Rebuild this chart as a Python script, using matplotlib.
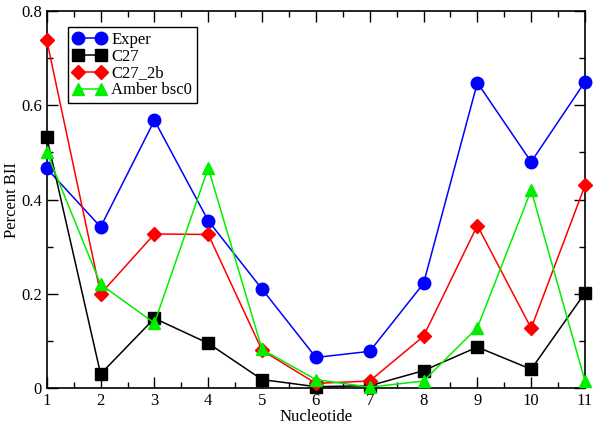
import matplotlib
matplotlib.use("Agg")
import matplotlib.pyplot as plt
from matplotlib.ticker import MultipleLocator

nucleotide = [1, 2, 3, 4, 5, 6, 7, 8, 9, 10, 11]
exper = [0.466, 0.342, 0.568, 0.355, 0.21, 0.065, 0.078, 0.222, 0.648, 0.48, 0.65]
c27 = [0.532, 0.03, 0.148, 0.095, 0.018, 0.003, 0.005, 0.037, 0.087, 0.04, 0.202]
c27_2b = [0.738, 0.2, 0.327, 0.326, 0.08, 0.01, 0.015, 0.11, 0.345, 0.127, 0.43]
amber = [0.5, 0.22, 0.138, 0.467, 0.082, 0.018, 0.002, 0.015, 0.128, 0.42, 0.015]

plt.rcParams['font.family'] = ['Liberation Serif', 'DejaVu Serif']

fig = plt.figure(figsize=(6, 4.26), dpi=100)
ax = fig.add_axes([0.078, 0.089, 0.897, 0.885])

ax.plot(nucleotide, exper, color='#0000ff', marker='o', markersize=9, lw=1.1, label='Exper', clip_on=False, zorder=3)
ax.plot(nucleotide, c27, color='black', marker='s', markersize=8, lw=1.1, label='C27', clip_on=False, zorder=4)
ax.plot(nucleotide, c27_2b, color='#ff0000', marker='D', markersize=7, lw=1.1, label='C27_2b', clip_on=False, zorder=5)
ax.plot(nucleotide, amber, color='#00ee00', marker='^', markersize=9, lw=1.1, label='Amber bsc0', clip_on=False, zorder=6)

ax.set_xlim(1, 11)
ax.set_ylim(0, 0.8)
ax.xaxis.set_major_locator(MultipleLocator(1))
ax.xaxis.set_minor_locator(MultipleLocator(0.5))
ax.yaxis.set_minor_locator(MultipleLocator(0.1))
ax.set_yticks([0, 0.2, 0.4, 0.6, 0.8])
ax.set_yticklabels(['0', '0.2', '0.4', '0.6', '0.8'])
ax.tick_params(which='both', direction='in', top=True, right=True, labelsize=12)
ax.tick_params(which='major', length=8, width=1)
ax.tick_params(which='minor', length=4, width=1)
for s in ax.spines.values():
    s.set_linewidth(1.2)

ax.set_xlabel('Nucleotide', fontsize=12, labelpad=0)
ax.set_ylabel('Percent BII', fontsize=12, labelpad=1)

leg = ax.legend(loc='upper left', bbox_to_anchor=(0.039, 0.958), borderaxespad=0,
                numpoints=2, fontsize=12,
                fancybox=False, framealpha=1, edgecolor='black', handlelength=2.0,
                handletextpad=0.3, borderpad=0.3, labelspacing=0.05)
leg.get_frame().set_linewidth(1.0)

fig.savefig('out.png', dpi=100)
